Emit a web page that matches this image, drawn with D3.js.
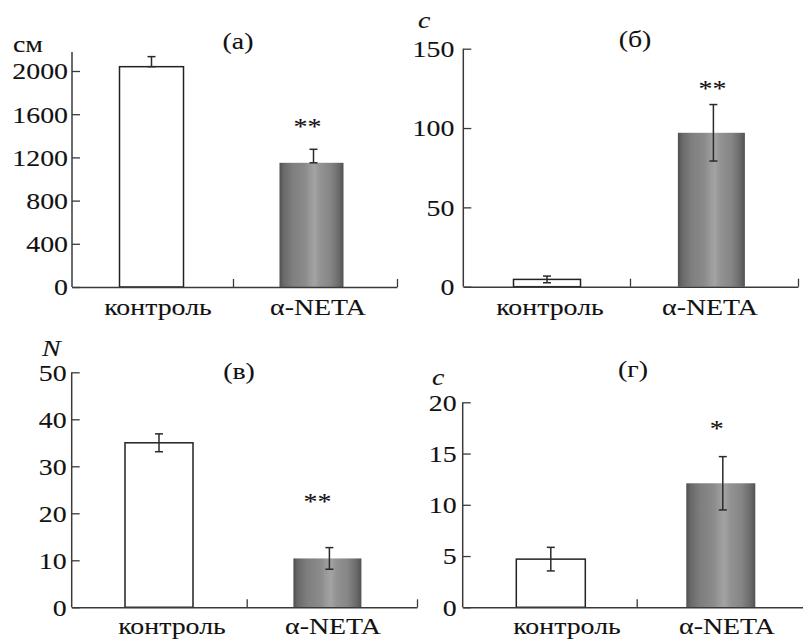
<!DOCTYPE html>
<html>
<head>
<meta charset="utf-8">
<script src="https://cdn.jsdelivr.net/npm/d3@7"></script>
<style>
  html, body { margin: 0; padding: 0; background: #fff; }
  svg { display: block; }
  text { font-family: "Liberation Serif", "Times New Roman", serif; fill: #111; stroke: #111; stroke-width: 0.1px; }
</style>
</head>
<body>
<svg id="chart" width="803" height="639"></svg>
<script>
// ---------------- DATA ----------------
const categories = ["контроль", "α-NETA"];
const panelLabels = ["(а)", "(б)", "(в)", "(г)"];
const unitLabels = ["см", "c", "N", "c"];

const valuesA = [2040, 1150];
const errorsA = [93, 125];
const ticksA = [0, 400, 800, 1200, 1600, 2000];

const valuesB = [4.6, 97];
const errorsB = [2.1, 17.8];
const ticksB = [0, 50, 100, 150];

const valuesV = [35, 10.4];
const errorsV = [1.9, 2.3];
const ticksV = [0, 10, 20, 30, 40, 50];

const valuesG = [4.7, 12.1];
const errorsG = [1.15, 2.6];
const ticksG = [0, 5, 10, 15, 20];

const sigMarks = ["**", "**", "**", "*"];
const sigLevels = [1417, 120, 20.9, 16.7];   // in data units of each panel
const oneSided = [true, false, false, false];

// ---------------- LAYOUT ----------------
const layouts = [
  { ax: 72, y0: 287, yTopPx: 71, yMax: 2000, axisTopVal: 2176, xEnd: 397, xMid: 233,
    bar: [71.5, 391.5], bw: 64, lab: [78, 398], labY: 315, pad: 4,
    title: [238, 49], unit: [13, 52, false], sigDx: -4 },
  { ax: 463.3, y0: 286.7, yTopPx: 48.7, yMax: 150, axisTopVal: 150, xEnd: 798, xMid: 630,
    bar: [464.8, 793.6], bw: 67, lab: [470, 790], labY: 315, pad: 9,
    title: [635, 47], unit: [418, 28, true], sigDx: 1 },
  { ax: 71.7, y0: 607.3, yTopPx: 372.3, yMax: 50, axisTopVal: 50, xEnd: 417, xMid: 246.7,
    bar: [74.8, 411.6], bw: 68, lab: [91.5, 413.5], labY: 634, pad: 5,
    title: [239, 379], unit: [42, 356, true], sigDx: -10 },
  { ax: 462.7, y0: 607.3, yTopPx: 402.3, yMax: 20, axisTopVal: 20, xEnd: 810, xMid: 636.7,
    bar: [465.8, 805.8], bw: 69, lab: [487, 807], labY: 634, pad: 6,
    title: [633, 377], unit: [432, 385, true], sigDx: -4 }
];

const panels = [
  { values: valuesA, errors: errorsA, ticks: ticksA },
  { values: valuesB, errors: errorsB, ticks: ticksB },
  { values: valuesV, errors: errorsV, ticks: ticksV },
  { values: valuesG, errors: errorsG, ticks: ticksG }
];

const SX = 1.16;       // horizontal stretch of the glyphs in the reference
const FS = 24;
const axisColor = "#3a3a3a";

const svg = d3.select("#chart");

const defs = svg.append("defs");
const grad = defs.append("linearGradient").attr("id", "barGrad")
  .attr("x1", "0%").attr("x2", "100%").attr("y1", "0%").attr("y2", "0%");
[[0, "#4e4e4e"], [0.06, "#686868"], [0.2, "#7e7e7e"], [0.4, "#8b8b8b"], [0.48, "#999999"],
 [0.55, "#a3a3a3"], [0.63, "#939393"], [0.8, "#858585"], [0.92, "#6c6c6c"], [1, "#525252"]]
  .forEach(([o, c]) => grad.append("stop").attr("offset", o).attr("stop-color", c));

function stretchedText(g, x, y, txt, anchor, opts = {}) {
  return g.append("text")
    .attr("transform", `translate(${x},${y}) scale(${SX},1)`)
    .attr("text-anchor", anchor)
    .attr("font-size", opts.size || FS)
    .attr("font-style", opts.italic ? "italic" : "normal")
    .text(txt);
}

panels.forEach((p, i) => {
  const L = layouts[i];
  const g = svg.append("g");

  const y = d3.scaleLinear().domain([0, L.yMax]).range([L.y0, L.yTopPx]);
  const xb = d3.scalePoint().domain(categories).range(L.bar).padding(0.5);
  const xl = d3.scalePoint().domain(categories).range(L.lab).padding(0.5);

  g.selectAll("rect.bar").data(categories).join("rect")
    .attr("x", (c) => xb(c) - L.bw / 2)
    .attr("width", L.bw)
    .attr("y", (c, k) => y(p.values[k]))
    .attr("height", (c, k) => y(0) - y(p.values[k]))
    .attr("fill", (c, k) => k === 0 ? "#fff" : "url(#barGrad)")
    .attr("stroke", (c, k) => k === 0 ? "#222" : "none")
    .attr("stroke-width", 1.5);

  categories.forEach((c, k) => {
    const v = p.values[k], e = p.errors[k];
    const top = y(v + e), bot = oneSided[i] ? y(v) : y(v - e);
    const cx = xb(c) + (k === 1 ? 2 : 0);
    const eg = g.append("g").attr("stroke", "#2a2a2a").attr("stroke-width", 1.5);
    eg.append("line").attr("x1", cx).attr("x2", cx).attr("y1", top).attr("y2", bot);
    eg.append("line").attr("x1", cx - 4).attr("x2", cx + 4).attr("y1", top).attr("y2", top);
    eg.append("line").attr("x1", cx - 4).attr("x2", cx + 4).attr("y1", bot).attr("y2", bot);
  });

  const yAxis = d3.axisLeft(y).tickValues(p.ticks).tickSize(-8).tickSizeOuter(0)
    .tickPadding(L.pad).tickFormat(d3.format("d"));
  const yg = g.append("g").attr("transform", `translate(${L.ax},0)`).call(yAxis)
    .attr("font-size", FS).attr("font-family", null);
  yg.select(".domain").remove();
  yg.append("line").attr("x1", 0).attr("x2", 0)
    .attr("y1", y(0)).attr("y2", y(L.axisTopVal))
    .attr("stroke", axisColor).attr("stroke-width", 1.5);
  yg.selectAll(".tick line").attr("stroke", axisColor).attr("stroke-width", 1.3);
  yg.selectAll(".tick text")
    .attr("font-size", FS)
    .attr("fill", "#111").attr("dy", "0.33em")
    .attr("x", null)
    .attr("transform", `translate(${-L.pad},0) scale(${SX},1)`);

  const xs = d3.scaleLinear().domain([0, 2]).range([L.ax, L.xEnd]);
  const xAxis = d3.axisBottom(xs).tickValues([1, 2]).tickSize(-8).tickSizeOuter(0).tickFormat("");
  const xg = g.append("g").attr("transform", `translate(0,${L.y0})`).call(xAxis);
  xg.select(".domain").attr("stroke", axisColor).attr("stroke-width", 1.5);
  xg.selectAll(".tick line").attr("stroke", axisColor).attr("stroke-width", 1.3)
    .attr("transform", (d) => `translate(${d === 1 ? L.xMid - xs(1) : 0},0)`);

  categories.forEach((c) => stretchedText(g, xl(c), L.labY, c, "middle"));
  stretchedText(g, L.title[0], L.title[1], panelLabels[i], "middle");
  stretchedText(g, L.unit[0], L.unit[1], unitLabels[i], "start", { italic: L.unit[2] });
  stretchedText(g, xb(categories[1]) + L.sigDx, y(sigLevels[i]), sigMarks[i], "middle");
});
</script>
</body>
</html>
